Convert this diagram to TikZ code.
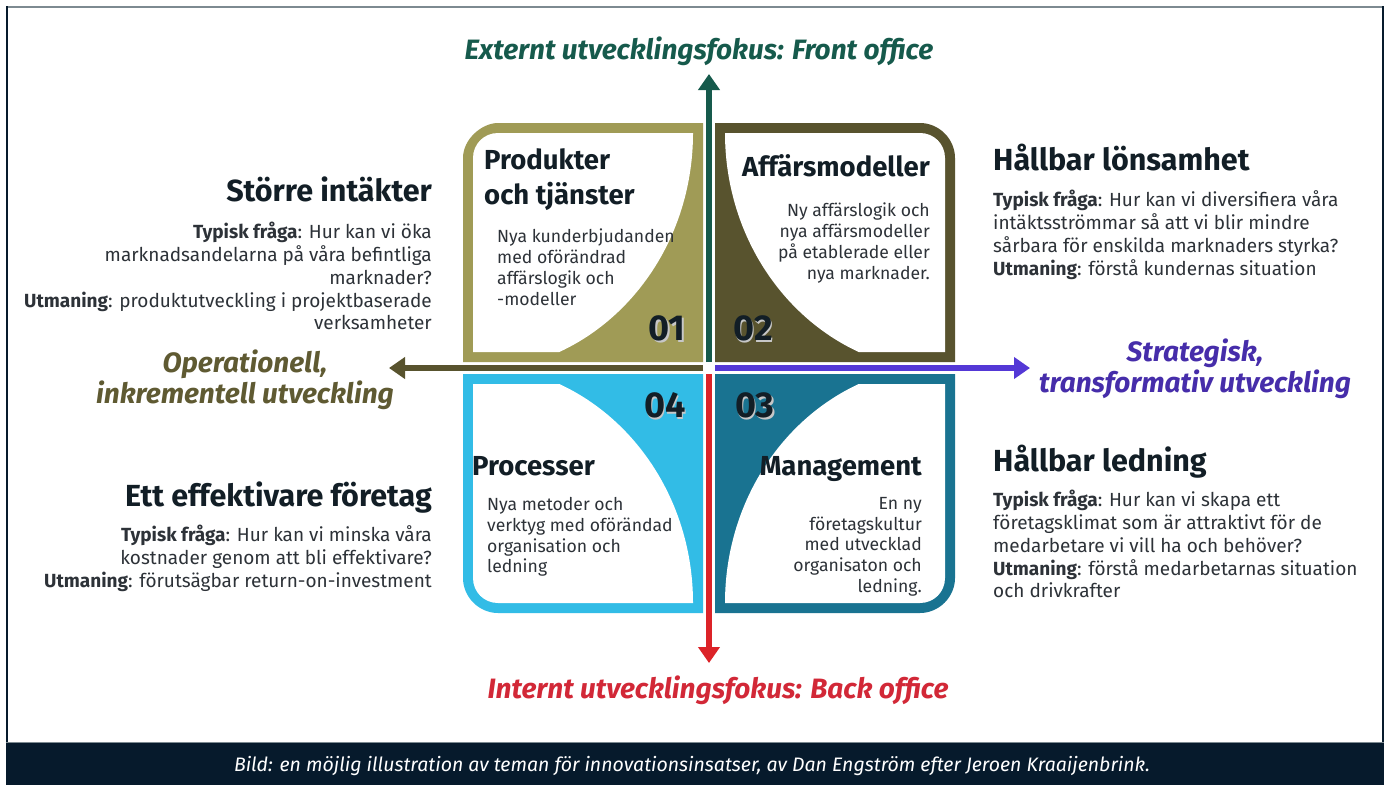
\documentclass[tikz,border=0pt]{standalone}
\usepackage{fontspec}
\setmainfont{Fira Sans}
\usepackage{xcolor}
\usepackage{tikz}
\usetikzlibrary{arrows.meta}
\definecolor{framegray}{RGB}{125,138,145}
\definecolor{barnavy}{RGB}{6,26,44}
\definecolor{inkdark}{RGB}{18,30,38}
\definecolor{inkbody}{RGB}{45,50,56}
\definecolor{oliveq}{RGB}{160,155,86}
\definecolor{olivedk}{RGB}{88,83,46}
\definecolor{olivetext}{RGB}{95,90,50}
\definecolor{tealgreen}{RGB}{22,90,76}
\definecolor{purplearr}{RGB}{84,56,214}
\definecolor{purpletext}{RGB}{70,45,170}
\definecolor{redarr}{RGB}{220,35,40}
\definecolor{redtext}{RGB}{210,40,55}
\definecolor{blueq}{RGB}{50,188,230}
\definecolor{tealq}{RGB}{25,115,145}
\tikzset{
  axisarrow/.style={line width=6.5pt, -{Triangle[width=21pt,length=16pt]}},
  axislabel/.style={font=\fontsize{28}{31}\selectfont\bfseries\itshape, align=center, inner sep=0pt},
  sidehead/.style={inkdark, font=\fontsize{30.5}{34}\selectfont\bfseries, inner sep=0pt},
  sidebody/.style={inkbody, font=\fontsize{19}{22.8}\selectfont, inner sep=0pt},
  quadhead/.style={inkdark, font=\fontsize{27.5}{35}\selectfont\bfseries, inner sep=0pt},
  quadbody/.style={inkbody, font=\fontsize{17.6}{20.8}\selectfont, inner sep=0pt},
  quadnum/.style={inkdark, font=\fontsize{36}{36}\selectfont\bfseries, inner sep=0pt},
  numshadow/.style={black!22, font=\fontsize{36}{36}\selectfont\bfseries, inner sep=0pt}
}

\begin{document}
\begin{tikzpicture}[x=1pt, y=-1pt]
    \useasboundingbox (0,0) rectangle (1389,785);
    \fill[white] (0,0) rectangle (1389,785);
    % Frame and caption bar
    \draw[framegray, line width=2pt] (6,7) -- (1383,7);
    \draw[barnavy, line width=2pt] (6.5,6) -- (6.5,743);
    \draw[barnavy, line width=2pt] (1382.5,6) -- (1382.5,743);
    \fill[barnavy] (5.5,743) rectangle (1383.5,785);
    \draw[framegray, line width=1.5pt] (5.5,742.5) -- (1383.5,742.5);
    \node[white, font=\fontsize{19.5}{22}\selectfont\itshape] (caption) at (692,766) {Bild: en möjlig illustration av teman för innovationsinsatser, av Dan Engström efter Jeroen Kraaijenbrink.};

    % Quadrant 01
    \fill[oliveq] (463,362) -- (463,158) .. controls (463,139) and (482,123) .. (498,123) -- (703,123) -- (703,362) -- cycle;
    \begin{scope}
        \clip (473,352) -- (473,158) .. controls (473,144) and (484,133) .. (498,133) -- (693,133) -- (693,352) -- cycle;
        \fill[white] (473,133) ellipse [x radius=220, y radius=238];
    \end{scope}
    % Quadrant 02
    \fill[olivedk] (715,362) -- (715,123) -- (920,123) .. controls (939,123) and (955,139) .. (955,158) -- (955,362) -- cycle;
    \begin{scope}
        \clip (725,352) -- (725,133) -- (920,133) .. controls (934,133) and (945,144) .. (945,158) -- (945,352) -- cycle;
        \fill[white] (945,133) ellipse [x radius=220, y radius=238];
    \end{scope}
    % Quadrant 04
    \fill[blueq] (463,374) -- (703,374) -- (703,613) -- (498,613) .. controls (479,613) and (463,597) .. (463,578) -- cycle;
    \begin{scope}
        \clip (473,384) -- (693,384) -- (693,603) -- (498,603) .. controls (484,603) and (473,592) .. (473,578) -- cycle;
        \fill[white] (473,603) ellipse [x radius=220, y radius=238];
    \end{scope}
    % Quadrant 03
    \fill[tealq] (715,374) -- (955,374) -- (955,578) .. controls (955,597) and (939,613) .. (920,613) -- (715,613) -- cycle;
    \begin{scope}
        \clip (725,384) -- (945,384) -- (945,578) .. controls (945,592) and (934,603) .. (920,603) -- (725,603) -- cycle;
        \fill[white] (945,603) ellipse [x radius=220, y radius=238];
    \end{scope}

    % Axes
    \coordinate (upstart) at (709,362);
    \coordinate (uptip) at (709,74);
    \coordinate (downstart) at (709,374);
    \coordinate (downtip) at (709,663);
    \coordinate (leftstart) at (703,368);
    \coordinate (lefttip) at (389,368);
    \coordinate (rightstart) at (715,368);
    \coordinate (righttip) at (1030,368);
    \draw[axisarrow, tealgreen] (upstart) -- (uptip);
    \draw[axisarrow, redarr] (downstart) -- (downtip);
    \draw[axisarrow, olivedk] (leftstart) -- (lefttip);
    \draw[axisarrow, purplearr] (rightstart) -- (righttip);
    \node[axislabel, tealgreen] (front) at (699,51) {Externt utvecklingsfokus: Front office};
    \node[axislabel, redtext] (back) at (718,690) {Internt utvecklingsfokus: Back office};
    \node[axislabel, olivetext] (oper) at (245,380) {Operationell,\\inkrementell utveckling};
    \node[axislabel, purpletext] (strat) at (1195,369) {Strategisk,\\transformativ utveckling};

    % Quadrant numbers
    \node[numshadow] (num01s) at (668.5,330) {01};
    \node[quadnum] (num01) at (667,328) {01};
    \node[numshadow] (num02s) at (754.5,330) {02};
    \node[quadnum] (num02) at (753,328) {02};
    \node[numshadow] (num04s) at (666.5,407) {04};
    \node[quadnum] (num04) at (665,405) {04};
    \node[numshadow] (num03s) at (756.5,407) {03};
    \node[quadnum] (num03) at (755,405) {03};

    % Quadrant texts
    \node[quadhead, anchor=north west, align=left] (prodhead) at (484,148) {Produkter\\och tjänster};
    \node[quadbody, anchor=north west, align=left] (prodbody) at (497,229) {Nya kunderbjudanden\\med oförändrad\\affärslogik och\\-modeller};
    \node[quadhead, anchor=base east] (affhead) at (930,176) {Affärsmodeller};
    \node[quadbody, anchor=north east, align=right] (affbody) at (930,203) {Ny affärslogik och\\nya affärsmodeller\\på etablerade eller\\nya marknader.};
    \node[quadhead, anchor=base west] (prochead) at (472,475) {Processer};
    \node[quadbody, anchor=north west, align=left] (procbody) at (487,497) {Nya metoder och\\verktyg med oförändad\\organisation och\\ledning};
    \node[quadhead, anchor=base east] (manhead) at (922,475) {Management};
    \node[quadbody, anchor=north east, align=right] (manbody) at (922,497) {En ny\\företagskultur\\med utvecklad\\organisaton och\\ledning.};

    % Side texts
    \node[sidehead, anchor=base east] (intakthead) at (432,201) {Större intäkter};
    \node[sidebody, anchor=north east, align=right] (intaktbody) at (432,222) {\textbf{Typisk fråga}: Hur kan vi öka\\marknadsandelarna på våra befintliga\\marknader?\\\textbf{Utmaning}: produktutveckling i projektbaserade\\verksamheter};
    \node[sidehead, anchor=base west] (lonshead) at (993,170) {Hållbar lönsamhet};
    \node[sidebody, anchor=north west, align=left] (lonsbody) at (993,190) {\textbf{Typisk fråga}: Hur kan vi diversifiera våra\\intäktsströmmar så att vi blir mindre\\sårbara för enskilda marknaders styrka?\\\textbf{Utmaning}: förstå kundernas situation};
    \node[sidehead, anchor=base west] (ledhead) at (993,471) {Hållbar ledning};
    \node[sidebody, anchor=north west, align=left] (ledbody) at (993,490) {\textbf{Typisk fråga}: Hur kan vi skapa ett\\företagsklimat som är attraktivt för de\\medarbetare vi vill ha och behöver?\\\textbf{Utmaning}: förstå medarbetarnas situation\\och drivkrafter};
    \node[sidehead, anchor=base east] (effhead) at (432,506) {Ett effektivare företag};
    \node[sidebody, anchor=north east, align=right] (effbody) at (432,525) {\textbf{Typisk fråga}: Hur kan vi minska våra\\kostnader genom att bli effektivare?\\\textbf{Utmaning}: förutsägbar return-on-investment};
\end{tikzpicture}
\end{document}
